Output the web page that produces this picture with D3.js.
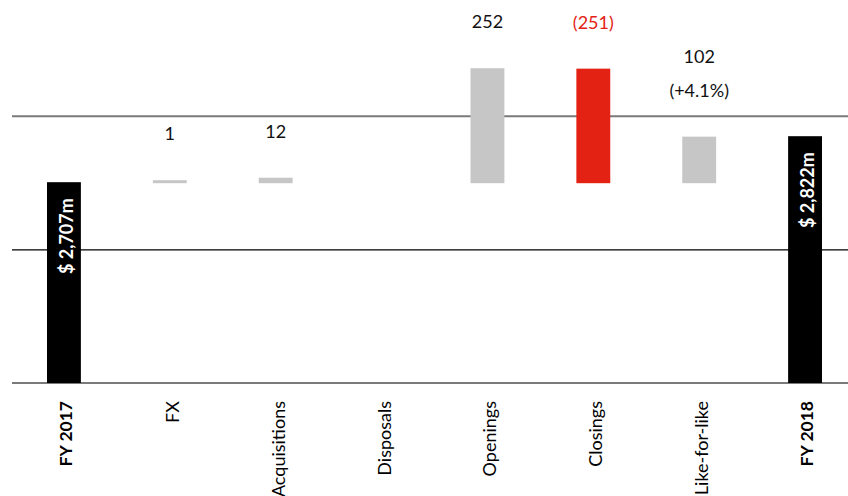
<!DOCTYPE html>
<html><head><meta charset="utf-8">
<script src="https://cdn.jsdelivr.net/npm/d3@7"></script>
<style>
html,body{margin:0;padding:0;background:#fff;}
text{font-family:"Lato","Open Sans",sans-serif;}
</style></head>
<body><svg id="c" width="848" height="496"></svg>
<script>
const categories = ["FY 2017","FX","Acquisitions","Disposals","Openings","Closings","Like-for-like","FY 2018"];
const kinds      = ["total","delta","delta","delta","delta","delta","delta","total"];
const values     = [2707, 1, 12, 0, 252, -251, 102, 2822];
const valueLabels = ["$ 2,707m","1","12","","252","(251)","102\n(+4.1%)","$ 2,822m"];
const gridValues = [2205, 2538, 2872];

const svg = d3.select("#c");
const W = 848, H = 496;

const x = d3.scaleBand().domain(categories).range([11, 858]).paddingInner(0.68).paddingOuter(0.34).align(0.5);
const y = d3.scaleLinear().domain([2205, 2900]).range([383, 105]);
const dh = d3.scaleLinear().domain([0, 252]).range([0, 115]);

// grid lines
const gridColors = ["#7a7a7a", "#000", "#7a7a7a"];
svg.append("g").selectAll("line").data(gridValues).join("line")
  .attr("x1", 12).attr("x2", W)
  .attr("y1", d => y(d)).attr("y2", d => y(d))
  .attr("stroke", (d,i) => gridColors[i])
  .attr("stroke-width", (d,i) => i===1 ? 1.2 : 2);

const base = y(values[0]);
const data = categories.map((c,i) => {
  let top, bottom;
  if (kinds[i] === "total") { top = y(values[i]); bottom = y(2205); }
  else {
    const h = values[i] === 0 ? 0 : Math.max(3, dh(Math.abs(values[i])));
    bottom = base + 1; top = bottom - h;
  }
  return {c, i, kind: kinds[i], v: values[i], top, bottom, label: valueLabels[i]};
});

const color = d => d.kind === "total" ? "#000" : (d.v < 0 ? "#e32213" : "#c6c6c6");

svg.append("g").selectAll("rect").data(data.filter(d => d.bottom - d.top > 0)).join("rect")
  .attr("x", d => x(d.c)).attr("width", x.bandwidth())
  .attr("y", d => d.top).attr("height", d => d.bottom - d.top)
  .attr("fill", color);

// total labels inside bars
data.filter(d => d.kind === "total").forEach(d => {
  const cx = x(d.c) + x.bandwidth()/2;
  svg.append("text")
    .attr("transform", `translate(${cx + 9},${d.top + 16}) rotate(-90)`)
    .attr("text-anchor", "end")
    .attr("fill", "#fff").attr("font-weight", "bold").attr("font-size", 18)
    .text(d.label);
});

// delta labels above bars
data.filter(d => d.kind === "delta" && d.label).forEach(d => {
  const cx = x(d.c) + x.bandwidth()/2;
  const lines = d.label.split("\n");
  const t = svg.append("text")
    .attr("text-anchor", "middle")
    .attr("font-size", 18)
    .attr("fill", d.v < 0 ? "#e32213" : "#111");
  lines.forEach((ln, k) => {
    t.append("tspan").attr("x", cx)
      .attr("y", d.top - 40 - (lines.length - 1 - k) * 34)
      .text(ln);
  });
});

// category labels
svg.append("g").selectAll("text").data(data).join("text")
  .attr("transform", d => `translate(${x(d.c) + x.bandwidth()/2 + (d.kind === "total" ? 8 : 9)},401) rotate(-90)`)
  .attr("text-anchor", "end")
  .attr("font-size", d => d.kind === "total" ? 17.5 : 18)
  .attr("font-weight", d => d.kind === "total" ? "bold" : "normal")
  .attr("fill", "#000")
  .text(d => d.c);
</script>
</body></html>
